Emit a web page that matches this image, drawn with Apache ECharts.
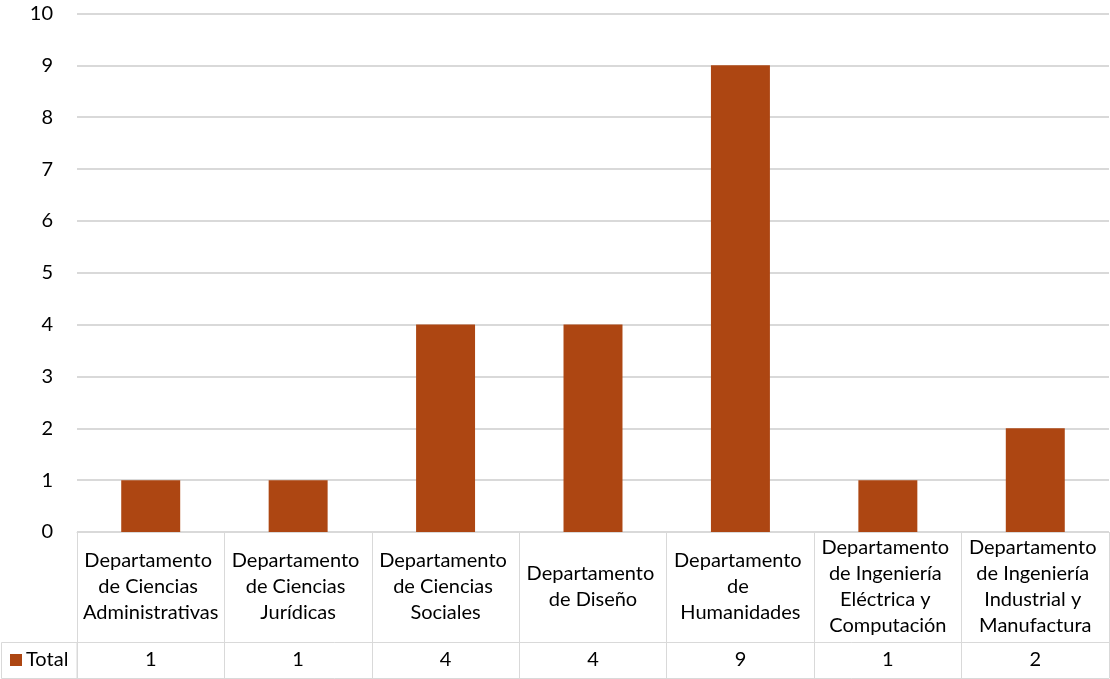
<!DOCTYPE html>
<html>
<head>
<meta charset="utf-8">
<script src="https://cdn.jsdelivr.net/npm/echarts@6/dist/echarts.min.js"></script>
<style>
html,body{margin:0;padding:0;background:#fff;}
#c{width:1110px;height:679px;}
</style>
</head>
<body>
<div id="c"></div>
<script>
var categories = [
  "Departamento de Ciencias Administrativas",
  "Departamento de Ciencias Jurídicas",
  "Departamento de Ciencias Sociales",
  "Departamento de Diseño",
  "Departamento de Humanidades",
  "Departamento de Ingeniería Eléctrica y Computación",
  "Departamento de Ingeniería Industrial y Manufactura"
];
var totals = [1, 1, 4, 4, 9, 1, 2];
var seriesName = "Total";
var yMin = 0, yMax = 10, yInterval = 1;

var FONT = "Lato";
var FS = 20;
var TXT = "#000000";
var LINE = "#d9d9d9";
var BAR = "#AD4612";

var chart = echarts.init(document.getElementById('c'), null, {renderer: 'canvas'});
chart.setOption({
  animation: false,
  backgroundColor: '#ffffff',
  textStyle: {fontFamily: FONT},
  grid: {left: 77, right: 1, top: 13.5, bottom: 147, containLabel: false},
  legend: {
    data: [seriesName],
    left: 10, top: 650,
    itemWidth: 12, itemHeight: 12, itemGap: 4,
    icon: 'rect',
    textStyle: {fontFamily: FONT, fontSize: FS, color: TXT, padding: [0,0,0,-1]},
    padding: 0,
    selectedMode: false
  },
  xAxis: [
    {
      type: 'category',
      data: categories,
      position: 'bottom',
      axisLine: {show: true, lineStyle: {color: LINE, width: 1}},
      axisTick: {show: true, length: 146, inside: false, lineStyle: {color: LINE, width: 1}},
      axisLabel: {
        interval: 0, margin: 55, verticalAlign: 'middle',
        width: 140, overflow: 'break', lineHeight: 26,
        fontFamily: FONT, fontSize: FS, color: TXT, align: 'center'
      },
      splitLine: {show: false}
    },
    {
      type: 'category',
      data: totals.map(String),
      position: 'bottom',
      offset: 110,
      axisLine: {show: true, lineStyle: {color: LINE, width: 1}},
      axisTick: {show: false},
      axisLabel: {interval: 0, margin: 18, verticalAlign: 'middle', fontFamily: FONT, fontSize: FS, color: TXT}
    },
    {
      type: 'category',
      data: categories,
      position: 'bottom',
      offset: 146,
      axisLine: {show: true, lineStyle: {color: LINE, width: 1}},
      axisTick: {show: false},
      axisLabel: {show: false}
    }
  ],
  yAxis: {
    type: 'value',
    min: yMin, max: yMax, interval: yInterval,
    axisLine: {show: false},
    axisTick: {show: false},
    axisLabel: {margin: 24, fontFamily: FONT, fontSize: FS, color: TXT},
    splitLine: {show: true, lineStyle: {color: LINE, width: 2}}
  },
  series: [{
    name: seriesName,
    type: 'bar',
    xAxisIndex: 0,
    data: totals,
    barWidth: '40%',
    itemStyle: {color: BAR},
    label: {show: false}
  }],
  graphic: [{
    type: 'rect',
    shape: {x: 1.5, y: 642.5, width: 75.5, height: 36},
    style: {fill: 'none', stroke: LINE, lineWidth: 1},
    silent: true
  }]
});
</script>
</body>
</html>
